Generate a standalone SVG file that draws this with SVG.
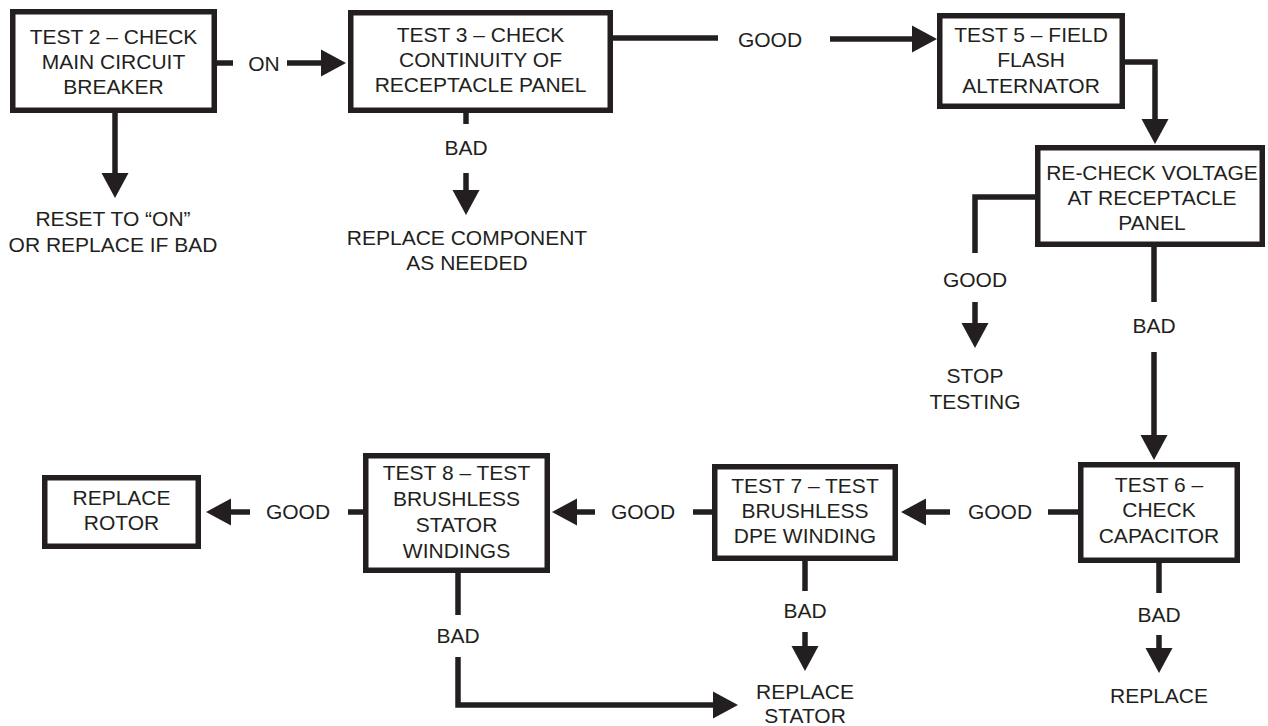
<svg xmlns="http://www.w3.org/2000/svg" xmlns:xlink="http://www.w3.org/1999/xlink" width="1268" height="726" viewBox="0 0 1268 726">
  <style>
    .box { fill: #ffffff; stroke: #231f20; stroke-width: 5.5; }
    .wire { fill: none; stroke: #231f20; stroke-width: 5.5; stroke-linejoin: miter; }
    .head { fill: #231f20; }
    text { font-family: "Liberation Sans", Arial, sans-serif; font-size: 21px; fill: #231f20; text-anchor: middle; }
  </style>
  <defs>
    <!-- arrowhead pointing right, tip at the origin -->
    <path id="ah" class="head" d="M0,0 L-25,-13.5 L-25,13.5 Z"/>
  </defs>
  <rect width="1268" height="726" fill="#ffffff"/>

  <g id="connectors">
    <!-- Test 2 -> Test 3 (ON) -->
    <line class="wire" x1="217" y1="63" x2="233" y2="63"/>
    <text x="264" y="71">ON</text>
    <line class="wire" x1="287" y1="63" x2="322" y2="63"/>
    <use href="#ah" transform="translate(346,63)"/>
    <!-- Test 2 -> reset -->
    <line class="wire" x1="115" y1="113" x2="115" y2="174"/>
    <use href="#ah" transform="translate(115,198) rotate(90)"/>
    <text x="113" y="226">RESET TO “ON”</text>
    <text x="113" y="252">OR REPLACE IF BAD</text>
    <!-- Test 3 BAD -->
    <line class="wire" x1="466" y1="113" x2="466" y2="124"/>
    <text x="466" y="155">BAD</text>
    <line class="wire" x1="466" y1="173" x2="466" y2="191"/>
    <use href="#ah" transform="translate(466,215) rotate(90)"/>
    <text x="467" y="245">REPLACE COMPONENT</text>
    <text x="467" y="270">AS NEEDED</text>
    <!-- Test 3 GOOD -> Test 5 -->
    <line class="wire" x1="613" y1="38" x2="718" y2="38"/>
    <text x="770" y="47">GOOD</text>
    <line class="wire" x1="830" y1="39" x2="912" y2="39"/>
    <use href="#ah" transform="translate(937,39)"/>
    <!-- Test 5 -> re-check -->
    <path class="wire" d="M1125,62 H1155 V119"/>
    <use href="#ah" transform="translate(1155,144) rotate(90)"/>
    <!-- re-check GOOD -->
    <path class="wire" d="M1035,197 H975 V253"/>
    <text x="975" y="287">GOOD</text>
    <line class="wire" x1="975" y1="302" x2="975" y2="324"/>
    <use href="#ah" transform="translate(975,348) rotate(90)"/>
    <text x="975" y="383">STOP</text>
    <text x="975" y="409">TESTING</text>
    <!-- re-check BAD -> Test 6 -->
    <line class="wire" x1="1154" y1="247" x2="1154" y2="302"/>
    <text x="1154" y="333">BAD</text>
    <line class="wire" x1="1154" y1="352" x2="1154" y2="435"/>
    <use href="#ah" transform="translate(1154,460) rotate(90)"/>
    <!-- Test 6 BAD -->
    <line class="wire" x1="1159" y1="563" x2="1159" y2="593"/>
    <text x="1159" y="622">BAD</text>
    <line class="wire" x1="1159" y1="635" x2="1159" y2="649"/>
    <use href="#ah" transform="translate(1159,673) rotate(90)"/>
    <text x="1159" y="703">REPLACE</text>
    <!-- Test 6 GOOD -> Test 7 -->
    <line class="wire" x1="1078" y1="512" x2="1048" y2="512"/>
    <text x="1000" y="519">GOOD</text>
    <line class="wire" x1="950" y1="512" x2="926" y2="512"/>
    <use href="#ah" transform="translate(901,512) rotate(180)"/>
    <!-- Test 7 BAD -->
    <line class="wire" x1="805" y1="561" x2="805" y2="591"/>
    <text x="805" y="618">BAD</text>
    <line class="wire" x1="805" y1="632" x2="805" y2="647"/>
    <use href="#ah" transform="translate(805,671) rotate(90)"/>
    <text x="805" y="699">REPLACE</text>
    <text x="805" y="723">STATOR</text>
    <!-- Test 7 GOOD -> Test 8 -->
    <line class="wire" x1="712" y1="512" x2="693" y2="512"/>
    <text x="643" y="519">GOOD</text>
    <line class="wire" x1="595" y1="512" x2="576" y2="512"/>
    <use href="#ah" transform="translate(552,512) rotate(180)"/>
    <!-- Test 8 BAD -> replace stator -->
    <line class="wire" x1="458" y1="573" x2="458" y2="615"/>
    <text x="458" y="643">BAD</text>
    <path class="wire" d="M458,657 V705 H714"/>
    <use href="#ah" transform="translate(738,705)"/>
    <!-- Test 8 GOOD -> replace rotor -->
    <line class="wire" x1="363" y1="512" x2="348" y2="512"/>
    <text x="298" y="519">GOOD</text>
    <line class="wire" x1="250" y1="512" x2="231" y2="512"/>
    <use href="#ah" transform="translate(206,512) rotate(180)"/>
  </g>

  <g id="test2">
    <rect class="box" x="12.75" y="11.75" width="201.5" height="98.5"/>
    <text x="113.5" y="44">TEST 2 – CHECK</text>
    <text x="113.5" y="69">MAIN CIRCUIT</text>
    <text x="113.5" y="94">BREAKER</text>
  </g>
  <g id="test3">
    <rect class="box" x="350.75" y="12.75" width="259.5" height="97.5"/>
    <text x="480.5" y="42">TEST 3 – CHECK</text>
    <text x="480.5" y="67">CONTINUITY OF</text>
    <text x="480.5" y="92">RECEPTACLE PANEL</text>
  </g>
  <g id="test5">
    <rect class="box" x="939.75" y="15.75" width="182.5" height="90.5"/>
    <text x="1031" y="42">TEST 5 – FIELD</text>
    <text x="1031" y="67">FLASH</text>
    <text x="1031" y="93">ALTERNATOR</text>
  </g>
  <g id="recheck">
    <rect class="box" x="1037.75" y="147.75" width="224.5" height="96.5"/>
    <text x="1152" y="180">RE-CHECK VOLTAGE</text>
    <text x="1152" y="205">AT RECEPTACLE</text>
    <text x="1152" y="230">PANEL</text>
  </g>
  <g id="test6">
    <rect class="box" x="1080.75" y="464.75" width="156.5" height="95.5"/>
    <text x="1159" y="492">TEST 6 –</text>
    <text x="1159" y="517">CHECK</text>
    <text x="1159" y="543">CAPACITOR</text>
  </g>
  <g id="test7">
    <rect class="box" x="714.75" y="466.75" width="180.5" height="91.5"/>
    <text x="805" y="493">TEST 7 – TEST</text>
    <text x="805" y="518">BRUSHLESS</text>
    <text x="805" y="543">DPE WINDING</text>
  </g>
  <g id="test8">
    <rect class="box" x="365.75" y="455.75" width="181.5" height="114.5"/>
    <text x="456.5" y="480">TEST 8 – TEST</text>
    <text x="456.5" y="506">BRUSHLESS</text>
    <text x="456.5" y="532">STATOR</text>
    <text x="456.5" y="558">WINDINGS</text>
  </g>
  <g id="rotor">
    <rect class="box" x="44.75" y="477.75" width="153.5" height="68.5"/>
    <text x="121.5" y="505">REPLACE</text>
    <text x="121.5" y="530">ROTOR</text>
  </g>
</svg>
